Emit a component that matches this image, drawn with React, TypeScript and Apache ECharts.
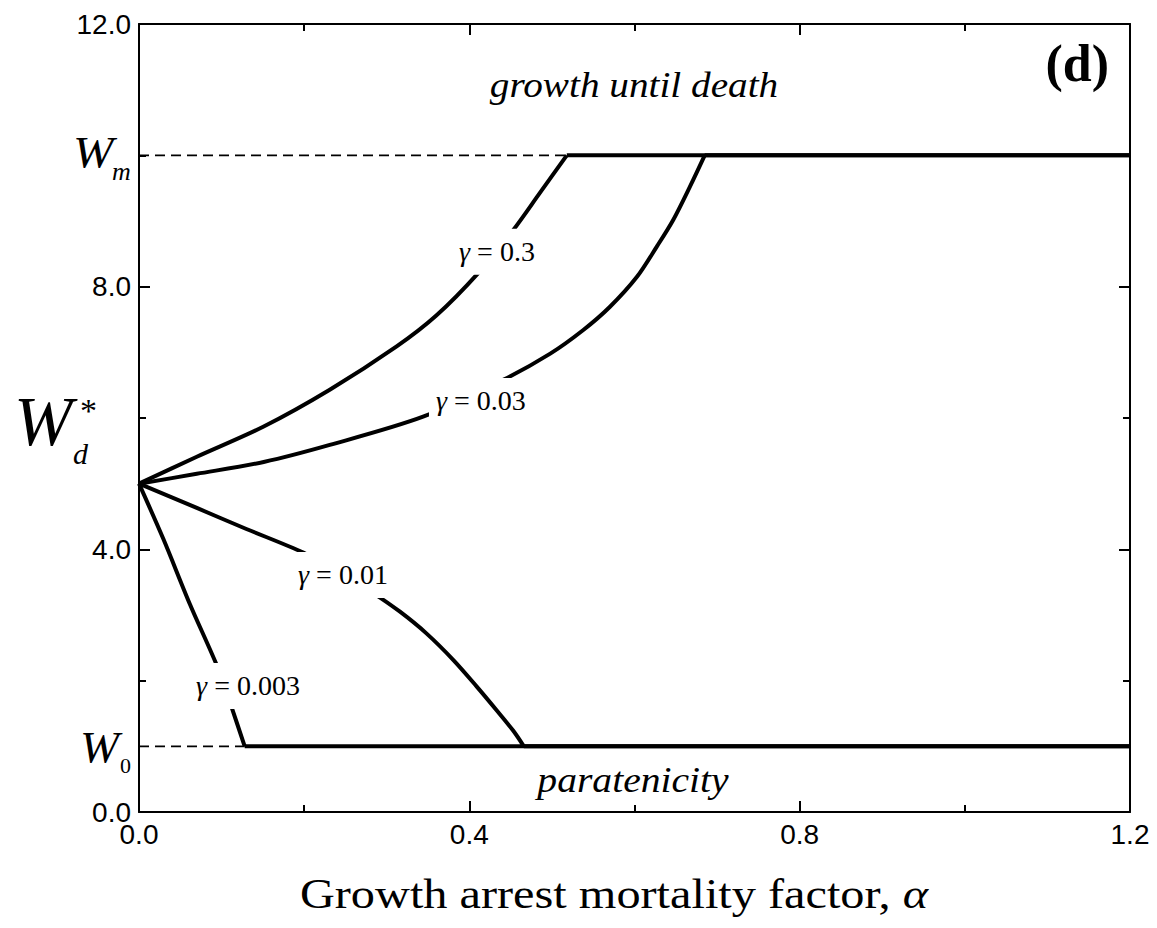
import React, { useEffect, useRef } from "react";
import * as echarts from "echarts";

// ---- data ----
const gamma03X = [0, 0.07, 0.151, 0.231, 0.312, 0.36, 0.411, 0.453, 0.485, 0.518, 1.2];
const gamma03Y = [5, 5.41, 5.87, 6.43, 7.09, 7.56, 8.21, 8.86, 9.42, 10, 10];

const gamma003X = [0, 0.07, 0.151, 0.231, 0.344, 0.441, 0.498, 0.538, 0.57, 0.603, 0.627, 0.647, 0.667, 0.685, 1.2];
const gamma003Y = [5, 5.15, 5.33, 5.59, 6.02, 6.58, 6.98, 7.34, 7.69, 8.15, 8.61, 9.02, 9.52, 10, 10];

const gamma001X = [0, 0.07, 0.13, 0.199, 0.24, 0.284, 0.316, 0.348, 0.381, 0.409, 0.433, 0.453, 0.466, 1.2];
const gamma001Y = [5, 4.63, 4.31, 3.95, 3.67, 3.33, 3.05, 2.72, 2.31, 1.91, 1.55, 1.24, 1.0, 1.0];

const gamma0003X = [0, 0.0294, 0.0618, 0.096, 0.112, 0.128, 1.2];
const gamma0003Y = [5, 4.16, 3.16, 2.18, 1.6, 1.0, 1.0];

const dashedWmX = [0, 0.518];
const dashedWmY = [10, 10];
const dashedW0X = [0, 0.128];
const dashedW0Y = [1, 1];

const curveLabels = ["0.3", "0.03", "0.01", "0.003"];
const curveLabelX = [0.4335, 0.414, 0.247, 0.132];
const curveLabelY = [8.53, 6.26, 3.61, 1.92];

const xMin = 0;
const xMax = 1.2;
const xInterval = 0.4;
const yMin = 0;
const yMax = 12;
const yInterval = 4;

const zip = (xs: number[], ys: number[]) => xs.map((x, i) => [x, ys[i]]);

const SERIF = "Liberation Serif";
const SANS = "Liberation Sans";

function txt(x: number, y: number, text: string, opts: any = {}) {
  const { fontSize = 30, fontStyle = "normal", fontWeight = "normal", align = "left", vAlign = "middle", scaleX = 1, rich } = opts;
  return {
    type: "text",
    x,
    y,
    scaleX,
    silent: true,
    z: 20,
    style: {
      text,
      fill: "#000",
      fontSize,
      fontStyle,
      fontWeight,
      fontFamily: SERIF,
      align,
      verticalAlign: vAlign,
      textAlign: align,
      textVerticalAlign: vAlign,
      rich,
    },
  };
}

export default function App() {
  const ref = useRef<HTMLDivElement>(null);

  useEffect(() => {
    if (!ref.current) return;
    const chart = echarts.init(ref.current, undefined, { renderer: "svg" });

    const axisCommon: any = {
      type: "value",
      axisLine: { show: true, onZero: false, lineStyle: { color: "#000", width: 2 } },
      axisTick: { show: true, inside: true, length: 11, lineStyle: { color: "#000", width: 2 } },
      minorTick: { show: true, splitNumber: 2, length: 7, lineStyle: { color: "#000", width: 2 } },
      splitLine: { show: false },
      minorSplitLine: { show: false },
    };
    const tickLabel = { fontFamily: SANS, fontSize: 28, color: "#000" };

    const lineBase = {
      type: "line",
      showSymbol: false,
      symbol: "none",
      silent: true,
      z: 3,
      lineStyle: { color: "#000", width: 4, join: "round", cap: "butt" },
    };
    // each curve: rising/falling smooth part, then the flat plateau at W_m or W_0
    const curveSeries = (name: string, xs: number[], ys: number[]) => {
      const data = zip(xs, ys);
      return [
        { ...lineBase, name, data: data.slice(0, -1), smooth: 0.3 },
        { ...lineBase, name: name + " plateau", data: data.slice(-2) },
      ];
    };
    const dashed = (name: string, data: number[][]) => ({
      name,
      type: "line",
      data,
      showSymbol: false,
      symbol: "none",
      silent: true,
      z: 2,
      lineStyle: { color: "#000", width: 1.6, type: [10, 6] },
    });

    const option: any = {
      animation: false,
      backgroundColor: "#fff",
      grid: { left: 139, right: 27, top: 24, bottom: 116, containLabel: false },
      xAxis: [
        {
          ...axisCommon,
          position: "bottom",
          min: xMin,
          max: xMax,
          interval: xInterval,
          axisLabel: { ...tickLabel, margin: 8, formatter: (v: number) => v.toFixed(1) },
        },
        {
          ...axisCommon,
          position: "top",
          min: xMin,
          max: xMax,
          interval: xInterval,
          axisLabel: { show: false },
        },
      ],
      yAxis: [
        {
          ...axisCommon,
          position: "left",
          min: yMin,
          max: yMax,
          interval: yInterval,
          axisLabel: { ...tickLabel, margin: 8, formatter: (v: number) => v.toFixed(1) },
        },
        {
          ...axisCommon,
          position: "right",
          min: yMin,
          max: yMax,
          interval: yInterval,
          axisLabel: { show: false },
        },
      ],
      series: [
        dashed("Wm", zip(dashedWmX, dashedWmY)),
        dashed("W0", zip(dashedW0X, dashedW0Y)),
        ...curveSeries("γ = 0.3", gamma03X, gamma03Y),
        ...curveSeries("γ = 0.03", gamma003X, gamma003Y),
        ...curveSeries("γ = 0.01", gamma001X, gamma001Y),
        ...curveSeries("γ = 0.003", gamma0003X, gamma0003Y),
        {
          name: "labels",
          type: "scatter",
          z: 10,
          silent: true,
          symbolSize: 0,
          itemStyle: { color: "#fff", opacity: 1 },
          data: curveLabelX.map((x, i) => ({ value: [x, curveLabelY[i]], name: curveLabels[i] })),
          label: {
            show: true,
            position: "inside",
            opacity: 1,
            backgroundColor: "#ffffff",
            padding: [9, 7],
            formatter: (p: any) => `{g|γ}{t| = ${p.name}}`,
            rich: {
              g: { fontFamily: SERIF, fontStyle: "italic", fontSize: 28, color: "#000" },
              t: { fontFamily: SERIF, fontSize: 28, color: "#000" },
            },
          },
          labelLayout: { hideOverlap: false },
        },
      ],
      graphic: [
        // y-axis title W_d*
        txt(14, 421, "W", { fontSize: 70, fontStyle: "italic" }),
        txt(73, 453, "d", { fontSize: 30, fontStyle: "italic" }),
        txt(80, 410, "*", { fontSize: 34 }),
        // W_m
        txt(73, 152, "W", { fontSize: 45, fontStyle: "italic", scaleX: 1.08 }),
        txt(112, 171, "m", { fontSize: 26, fontStyle: "italic" }),
        // W_0
        txt(80, 747, "W", { fontSize: 45, fontStyle: "italic", scaleX: 1.04 }),
        txt(120, 765, "0", { fontSize: 22 }),
        // region annotations
        txt(634, 85, "growth until death", { fontSize: 36, fontStyle: "italic", align: "center", scaleX: 1.09 }),
        txt(633, 780, "paratenicity", { fontSize: 36, fontStyle: "italic", align: "center", scaleX: 1.1 }),
        txt(1109, 63, "(d)", { fontSize: 52, fontWeight: "bold", align: "right" }),
        // x-axis title
        txt(614, 894, "{a|Growth arrest mortality factor, }{b|α}", {
          fontSize: 42,
          align: "center",
          scaleX: 1.15,
          rich: {
            a: { fontFamily: SERIF, fontSize: 42, fill: "#000", color: "#000" },
            b: { fontFamily: SERIF, fontSize: 42, fontStyle: "italic", fill: "#000", color: "#000" },
          },
        }),
      ],
    };

    chart.setOption(option);
    return () => chart.dispose();
  }, []);

  return (
    <div
      ref={ref}
      style={{ position: "absolute", left: 0, top: 0, width: 1157, height: 928, background: "#fff" }}
    />
  );
}
